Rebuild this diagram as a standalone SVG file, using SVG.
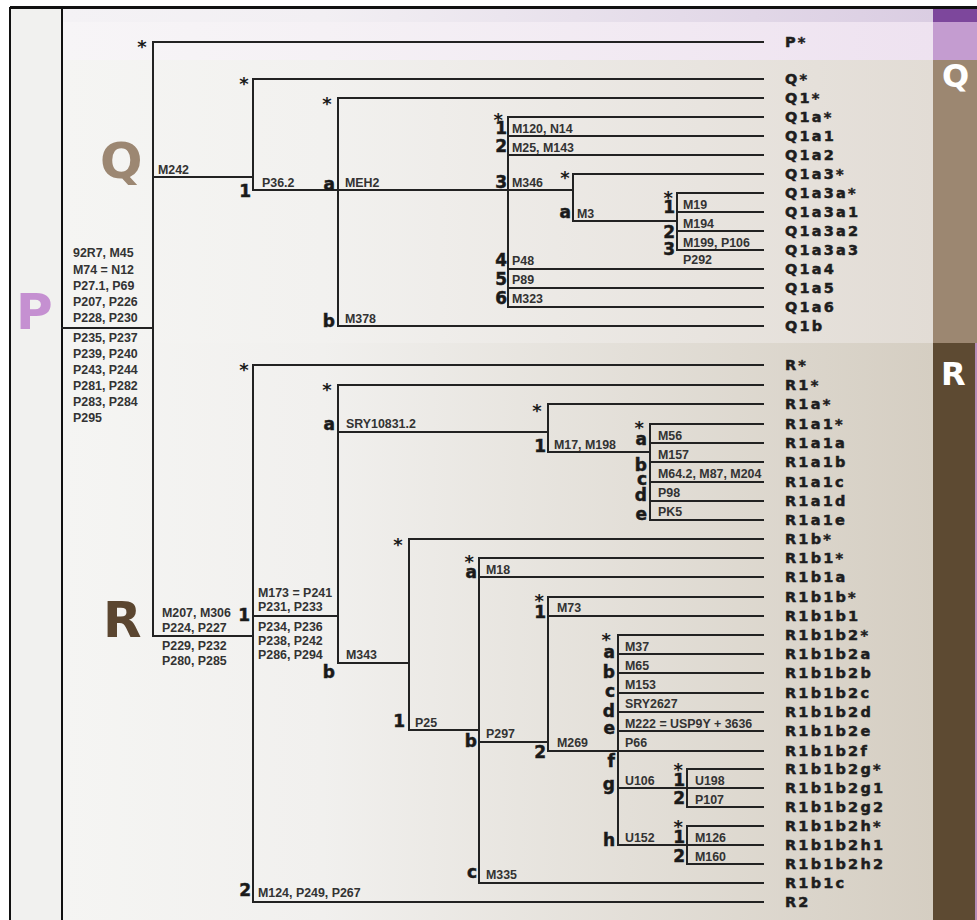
<svg xmlns="http://www.w3.org/2000/svg" width="977" height="920" viewBox="0 0 977 920">
<defs>
<linearGradient id="gTop" x1="0" x2="1" y1="0" y2="0"><stop offset="0" stop-color="#F4F2F5"/><stop offset="0.3" stop-color="#F2EFF3"/><stop offset="1" stop-color="#DACDE2"/></linearGradient>
<linearGradient id="gP" x1="0" x2="1" y1="0" y2="0"><stop offset="0" stop-color="#F7F5F7"/><stop offset="0.3" stop-color="#F5F1F5"/><stop offset="1" stop-color="#EEE2F0"/></linearGradient>
<linearGradient id="gQ" x1="0" x2="1" y1="0" y2="0"><stop offset="0" stop-color="#F5F5F3"/><stop offset="0.3" stop-color="#F2F1EF"/><stop offset="1" stop-color="#E2DCD5"/></linearGradient>
<linearGradient id="gR" x1="0" x2="1" y1="0" y2="0"><stop offset="0" stop-color="#F5F5F3"/><stop offset="0.3" stop-color="#F1F0EE"/><stop offset="1" stop-color="#D5CEC2"/></linearGradient>
<style>
.ln{stroke:#222;stroke-width:2;fill:none;stroke-linecap:square}
.fr{stroke:#111;fill:none}
.leaf{font-family:"DejaVu Sans","Liberation Sans",sans-serif;font-weight:bold;font-size:14.5px;letter-spacing:2.2px;fill:#1e1e1e;stroke:#1e1e1e;stroke-width:0.5}
.mk{font-family:"Liberation Sans",Arial,sans-serif;font-weight:bold;font-size:12.4px;fill:#333}
.br{font-family:"DejaVu Sans","Liberation Sans",sans-serif;font-weight:bold;font-size:17px;fill:#1a1a1a;stroke:#1a1a1a;stroke-width:0.5;text-anchor:end}
.as{font-size:18px;stroke:none}
.st{font-family:"DejaVu Sans","Liberation Sans",sans-serif;font-weight:bold;font-size:18px;fill:#1a1a1a;text-anchor:middle}
.big{font-family:"DejaVu Sans","Liberation Sans",sans-serif;font-weight:bold;font-size:50px}
.bar{font-family:"DejaVu Sans","Liberation Sans",sans-serif;font-weight:bold;font-size:32px;fill:#fff}
</style>
</defs>
<g id="background">
<rect x="0" y="0" width="977" height="920" fill="#fff"/>
<rect x="10" y="7" width="52" height="913" fill="#F1F1EF"/>
<rect x="62" y="7" width="871" height="15" fill="url(#gTop)"/>
<rect x="62" y="22" width="871" height="38" fill="url(#gP)"/>
<rect x="62" y="60" width="871" height="283" fill="url(#gQ)"/>
<rect x="62" y="343" width="871" height="577" fill="url(#gR)"/>
<rect x="933" y="7" width="44" height="15" fill="#7D479C"/>
<rect x="933" y="22" width="44" height="38" fill="#C49CD0"/>
<rect x="933" y="60" width="44" height="283" fill="#9C8771"/>
<rect x="933" y="343" width="44" height="577" fill="#5D4A32"/>
<rect x="975" y="343" width="2" height="577" fill="#B58BB8"/>
<path class="fr" stroke-width="3" d="M10 7.5H977"/>
<path class="fr" stroke-width="2" d="M10 7V920M62 7V920"/>
<text class="bar" x="942" y="87">Q</text>
<text class="bar" x="941" y="385">R</text>
</g>
<g id="connectors">
<path class="ln" d="M62 328H153M153 42V636M153 42H763"/>
<path class="ln" d="M153 177H253M253 79V190M253 79H763"/>
<path class="ln" d="M253 190H338M338 98V326M338 98H763M338 326H763"/>
<path class="ln" d="M338 190H573M508 117V307M508 117H763M508 136H763M508 155H763M508 269H763M508 288H763M508 307H763"/>
<path class="ln" d="M573 174V221M573 174H763M573 221H677"/>
<path class="ln" d="M677 193V250M677 193H763M677 212H763M677 231H763M677 250H763"/>
<path class="ln" d="M153 636H253M253 365V902M253 365H763M253 902H763"/>
<path class="ln" d="M253 616H338M338 385V663M338 385H763"/>
<path class="ln" d="M338 432H548M548 404V452M548 404H763M548 452H650"/>
<path class="ln" d="M650 424V520M650 424H763M650 443H763M650 462H763M650 482H763M650 501H763M650 520H763"/>
<path class="ln" d="M338 663H409M409 539V730M409 539H763M409 730H479"/>
<path class="ln" d="M479 558V883M479 558H763M479 577H763M479 883H763M479 742H548"/>
<path class="ln" d="M548 597V751M548 597H763M548 616H763M548 751H763"/>
<path class="ln" d="M618 635V845M618 635H763M618 654H763M618 673H763M618 693H763M618 712H763M618 731H763M618 788H763M618 845H763"/>
<path class="ln" d="M687 769V807M687 769H763M687 807H763M687 826V864M687 826H763M687 864H763"/>
</g>
<g id="node-P">
<text class="big" x="16" y="329" fill="#C590D1">P</text>
<text class="st" x="142" y="53">*</text>
<text class="leaf" x="785" y="47">P*</text>
<g class="mk">
<text x="73" y="257">92R7, M45</text><text x="73" y="274">M74 = N12</text><text x="73" y="290">P27.1, P69</text><text x="73" y="306">P207, P226</text><text x="73" y="322">P228, P230</text>
<text x="73" y="342">P235, P237</text><text x="73" y="358">P239, P240</text><text x="73" y="374">P243, P244</text><text x="73" y="390">P281, P282</text><text x="73" y="406">P283, P284</text><text x="73" y="422">P295</text>
</g>
</g>
<g id="node-Q">
<text class="big" x="100" y="178" fill="#9C8772">Q</text>
<text class="mk" x="158" y="174">M242</text>
<text class="st" x="244" y="90">*</text>
<text class="leaf" x="785" y="84">Q*</text>
</g>
<g id="node-Q1">
<text class="br" x="251" y="197">1</text>
<text class="mk" x="262" y="187">P36.2</text>
<text class="st" x="327" y="110">*</text>
<text class="leaf" x="785" y="103">Q1*</text>
</g>
<g id="node-Q1a">
<text class="br" x="335" y="190">a</text>
<text class="mk" x="345" y="187">MEH2</text>
<text class="leaf" x="785" y="122">Q1a*</text>
</g>
<g id="node-Q1a1"><text class="br"><tspan class="as" x="503" y="126">*</tspan><tspan x="507" y="134">1</tspan></text><text class="mk" x="512" y="133">M120, N14</text><text class="leaf" x="785" y="141">Q1a1</text></g>
<g id="node-Q1a2"><text class="br" x="507" y="152">2</text><text class="mk" x="512" y="152">M25, M143</text><text class="leaf" x="785" y="160">Q1a2</text></g>
<g id="node-Q1a3"><text class="br" x="507" y="188">3</text><text class="mk" x="512" y="187">M346</text><text class="st" x="565" y="184">*</text><text class="leaf" x="785" y="179">Q1a3*</text></g>
<g id="node-Q1a3a"><text class="br" x="571" y="218">a</text><text class="mk" x="577" y="218">M3</text><text class="br"><tspan class="as" x="673" y="204">*</tspan><tspan x="675" y="213">1</tspan><tspan x="675" y="238">2</tspan><tspan x="675" y="255">3</tspan></text><text class="leaf" x="785" y="198">Q1a3a*</text></g>
<g id="node-Q1a3a1"><text class="mk" x="683" y="209">M19</text><text class="leaf" x="785" y="217">Q1a3a1</text></g>
<g id="node-Q1a3a2"><text class="mk" x="683" y="228">M194</text><text class="leaf" x="785" y="236">Q1a3a2</text></g>
<g id="node-Q1a3a3"><text class="mk" x="683" y="247">M199, P106</text><text class="mk" x="683" y="264">P292</text><text class="leaf" x="785" y="255">Q1a3a3</text></g>
<g id="node-Q1a4"><text class="br" x="507" y="266">4</text><text class="mk" x="512" y="265">P48</text><text class="leaf" x="785" y="274">Q1a4</text></g>
<g id="node-Q1a5"><text class="br" x="507" y="285">5</text><text class="mk" x="512" y="284">P89</text><text class="leaf" x="785" y="293">Q1a5</text></g>
<g id="node-Q1a6"><text class="br" x="507" y="304">6</text><text class="mk" x="512" y="303">M323</text><text class="leaf" x="785" y="312">Q1a6</text></g>
<g id="node-Q1b"><text class="br" x="335" y="327">b</text><text class="mk" x="345" y="323">M378</text><text class="leaf" x="785" y="331">Q1b</text></g>
<g id="node-R">
<text class="big" x="103" y="637" fill="#5B4630">R</text>
<g class="mk"><text x="162" y="617">M207, M306</text><text x="162" y="632">P224, P227</text><text x="162" y="650">P229, P232</text><text x="162" y="665">P280, P285</text></g>
<text class="st" x="244" y="376">*</text>
<text class="leaf" x="785" y="370">R*</text>
</g>
<g id="node-R1">
<text class="br" x="250" y="621">1</text>
<g class="mk"><text x="258" y="597">M173 = P241</text><text x="258" y="611">P231, P233</text><text x="258" y="631">P234, P236</text><text x="258" y="645">P238, P242</text><text x="258" y="659">P286, P294</text></g>
<text class="st" x="327" y="396">*</text>
<text class="leaf" x="785" y="390">R1*</text>
</g>
<g id="node-R1a"><text class="br" x="335" y="430">a</text><text class="mk" x="346" y="428">SRY10831.2</text><text class="st" x="537" y="417">*</text><text class="leaf" x="785" y="409">R1a*</text></g>
<g id="node-R1a1"><text class="br" x="546" y="452">1</text><text class="mk" x="554" y="449">M17, M198</text><text class="br"><tspan class="as" x="644" y="434">*</tspan><tspan x="647" y="445">a</tspan><tspan x="647" y="471">b</tspan><tspan x="647" y="485">c</tspan><tspan x="647" y="501">d</tspan><tspan x="647" y="520">e</tspan></text><text class="leaf" x="785" y="429">R1a1*</text></g>
<g id="node-R1a1a"><text class="mk" x="658" y="440">M56</text><text class="leaf" x="785" y="448">R1a1a</text></g>
<g id="node-R1a1b"><text class="mk" x="658" y="459">M157</text><text class="leaf" x="785" y="467">R1a1b</text></g>
<g id="node-R1a1c"><text class="mk" x="658" y="478">M64.2, M87, M204</text><text class="leaf" x="785" y="487">R1a1c</text></g>
<g id="node-R1a1d"><text class="mk" x="658" y="497">P98</text><text class="leaf" x="785" y="506">R1a1d</text></g>
<g id="node-R1a1e"><text class="mk" x="658" y="516">PK5</text><text class="leaf" x="785" y="525">R1a1e</text></g>
<g id="node-R1b"><text class="br" x="335" y="678">b</text><text class="mk" x="346" y="659">M343</text><text class="st" x="398" y="551">*</text><text class="leaf" x="785" y="544">R1b*</text></g>
<g id="node-R1b1"><text class="br" x="405" y="727">1</text><text class="mk" x="415" y="727">P25</text><text class="leaf" x="785" y="563">R1b1*</text></g>
<g id="node-R1b1a"><text class="br"><tspan class="as" x="474" y="568">*</tspan><tspan x="477" y="578">a</tspan></text><text class="mk" x="486" y="574">M18</text><text class="leaf" x="785" y="582">R1b1a</text></g>
<g id="node-R1b1b"><text class="br" x="477" y="747">b</text><text class="mk" x="486" y="738">P297</text><text class="leaf" x="785" y="602">R1b1b*</text></g>
<g id="node-R1b1b1"><text class="br"><tspan class="as" x="544" y="607">*</tspan><tspan x="546" y="618">1</tspan></text><text class="mk" x="557" y="612">M73</text><text class="leaf" x="785" y="621">R1b1b1</text></g>
<g id="node-R1b1b2"><text class="br" x="546" y="758">2</text><text class="mk" x="557" y="747">M269</text><text class="br"><tspan class="as" x="611" y="646">*</tspan><tspan x="615" y="658">a</tspan><tspan x="615" y="678">b</tspan><tspan x="615" y="697">c</tspan><tspan x="615" y="717">d</tspan><tspan x="615" y="734">e</tspan><tspan x="615" y="767">f</tspan><tspan x="615" y="790">g</tspan><tspan x="615" y="846">h</tspan></text><text class="leaf" x="785" y="640">R1b1b2*</text></g>
<g id="node-R1b1b2a"><text class="mk" x="625" y="651">M37</text><text class="leaf" x="785" y="659">R1b1b2a</text></g>
<g id="node-R1b1b2b"><text class="mk" x="625" y="670">M65</text><text class="leaf" x="785" y="678">R1b1b2b</text></g>
<g id="node-R1b1b2c"><text class="mk" x="625" y="689">M153</text><text class="leaf" x="785" y="698">R1b1b2c</text></g>
<g id="node-R1b1b2d"><text class="mk" x="625" y="708">SRY2627</text><text class="leaf" x="785" y="717">R1b1b2d</text></g>
<g id="node-R1b1b2e"><text class="mk" x="625" y="728">M222 = USP9Y + 3636</text><text class="leaf" x="785" y="736">R1b1b2e</text></g>
<g id="node-R1b1b2f"><text class="mk" x="625" y="747">P66</text><text class="leaf" x="785" y="756">R1b1b2f</text></g>
<g id="node-R1b1b2g"><text class="mk" x="625" y="785">U106</text><text class="br"><tspan class="as" x="683" y="776">*</tspan><tspan x="685" y="786">1</tspan><tspan x="685" y="804">2</tspan></text><text class="leaf" x="785" y="774">R1b1b2g*</text></g>
<g id="node-R1b1b2g1"><text class="mk" x="695" y="785">U198</text><text class="leaf" x="785" y="793">R1b1b2g1</text></g>
<g id="node-R1b1b2g2"><text class="mk" x="695" y="804">P107</text><text class="leaf" x="785" y="812">R1b1b2g2</text></g>
<g id="node-R1b1b2h"><text class="mk" x="625" y="842">U152</text><text class="br"><tspan class="as" x="683" y="833">*</tspan><tspan x="685" y="843">1</tspan><tspan x="685" y="862">2</tspan></text><text class="leaf" x="785" y="831">R1b1b2h*</text></g>
<g id="node-R1b1b2h1"><text class="mk" x="695" y="842">M126</text><text class="leaf" x="785" y="850">R1b1b2h1</text></g>
<g id="node-R1b1b2h2"><text class="mk" x="695" y="861">M160</text><text class="leaf" x="785" y="869">R1b1b2h2</text></g>
<g id="node-R1b1c"><text class="br" x="477" y="878">c</text><text class="mk" x="486" y="879">M335</text><text class="leaf" x="785" y="888">R1b1c</text></g>
<g id="node-R2"><text class="br" x="251" y="896">2</text><text class="mk" x="258" y="897">M124, P249, P267</text><text class="leaf" x="785" y="907">R2</text></g>
</svg>
